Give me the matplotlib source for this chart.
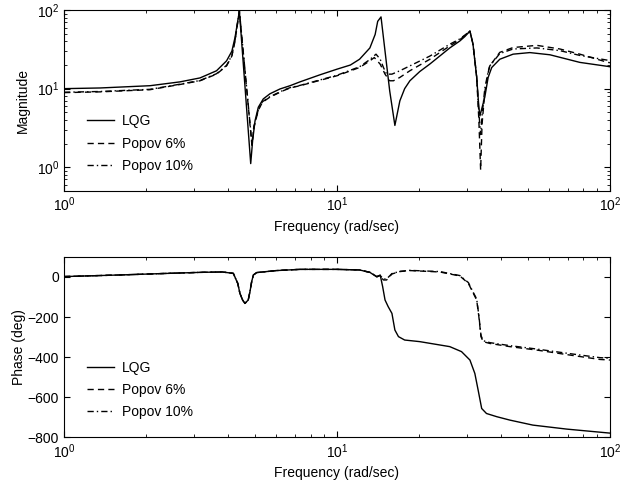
import matplotlib
matplotlib.use('Agg')
import matplotlib.pyplot as plt
from matplotlib.ticker import LogLocator, NullFormatter

plt.rcParams['font.family'] = ['Liberation Sans', 'DejaVu Sans']
plt.rcParams['font.size'] = 10
plt.rcParams['lines.scale_dashes'] = False
plt.rcParams['lines.dashed_pattern'] = [4.5, 3.0]
plt.rcParams['lines.dashdot_pattern'] = [4.5, 2.2, 1.0, 2.2]

# Magnitude data
f_mag_lqg = [1.0, 1.355, 2.065, 2.66, 3.15, 3.62, 3.94, 4.12, 4.23, 4.31, 4.39, 4.83,
             4.91, 5.01, 5.15, 5.37, 5.68, 6.18, 6.73, 7.32, 8.66, 10.0, 11.2, 12.1, 13.2,
             13.8, 14.1, 14.5, 15.0, 15.6, 16.3, 17.0, 17.7, 18.5, 20.1, 21.9, 25.9, 28.2,
             29.4, 30.7, 31.5, 32.5, 33.1, 33.4, 33.9, 34.8, 35.8, 36.9, 39.5, 44.2, 50.9,
             60.3, 77.6, 98.3, 100.0]
mag_lqg = [10.0, 10.2, 10.9, 12.2, 13.7, 16.9, 22.6, 30.0, 44.6, 66.0, 97.0, 1.11,
           2.2, 3.9, 5.8, 7.4, 8.6, 9.9, 10.9, 12.2, 15.0, 17.7, 20.0, 23.7, 33.0,
           49.0, 72.0, 82.0, 30.0, 9.4, 3.4, 7.0, 10.0, 12.6, 16.5, 20.6, 33.0, 40.5,
           46.0, 54.0, 37.0, 13.9, 5.8, 4.5, 5.5, 7.8, 13.9, 18.6, 23.7, 27.5, 28.8,
           27.0, 21.6, 19.2, 19.0]

f_mag_p6 = [1.0, 1.355, 2.065, 2.66, 3.15, 3.62, 3.94, 4.12, 4.23, 4.31, 4.39, 4.88,
            4.96, 5.15, 5.33, 5.68, 6.35, 6.73, 7.32, 10.0, 12.1, 13.2, 13.7, 14.4, 15.0,
            15.6, 16.1, 17.0, 18.5, 21.9, 25.9, 28.2, 30.7, 31.5, 32.5, 33.1, 33.6, 34.0,
            34.8, 35.8, 36.3, 39.5, 44.2, 54.0, 65.6, 77.6, 98.3, 100.0]
mag_p6 = [8.9, 9.1, 9.7, 11.3, 12.6, 15.3, 19.5, 26.0, 40.0, 63.0, 97.0, 1.9,
          3.2, 5.3, 6.7, 7.8, 9.4, 10.2, 10.9, 14.6, 18.6, 22.6, 24.9, 20.5, 15.3,
          12.6, 12.6, 13.9, 16.9, 23.7, 35.0, 42.0, 54.0, 37.0, 14.0, 4.0, 0.92, 3.5,
          9.0, 16.0, 19.5, 29.0, 33.4, 35.6, 32.0, 27.5, 21.6, 21.4]

f_mag_p10 = [1.0, 1.355, 2.065, 2.66, 3.15, 3.62, 3.94, 4.12, 4.23, 4.31, 4.39, 4.88,
             4.96, 5.15, 5.33, 5.68, 6.35, 6.73, 7.32, 10.0, 12.1, 13.2, 13.9, 14.4, 14.8,
             15.2, 15.9, 17.0, 18.5, 21.9, 25.9, 28.2, 30.7, 31.5, 32.5, 33.1, 33.6, 34.0,
             34.8, 35.8, 36.3, 39.5, 44.2, 54.0, 65.6, 77.6, 98.3, 100.0]
mag_p10 = [9.0, 9.2, 9.8, 11.4, 12.7, 15.5, 19.8, 26.5, 41.0, 64.0, 97.0, 2.0,
           3.3, 5.4, 6.8, 7.9, 9.5, 10.3, 11.0, 14.8, 19.0, 23.5, 27.5, 23.7, 18.6,
           15.3, 15.3, 16.9, 19.5, 26.0, 36.8, 43.0, 54.0, 37.0, 14.5, 5.0, 2.6, 4.5,
           10.0, 16.5, 19.5, 28.0, 32.0, 33.0, 30.5, 26.5, 23.0, 22.8]

# Phase data
f_ph_lqg = [1.0, 1.6, 2.4, 3.15, 3.8, 4.17, 4.33, 4.41, 4.51, 4.60, 4.73, 4.80, 4.87,
            4.94, 5.08, 6.0, 7.32, 10.0, 12.1, 13.2, 14.0, 14.4, 14.7, 15.0, 15.4, 15.9,
            16.3, 16.8, 17.7, 20.1, 25.9, 28.6, 30.7, 32.0, 32.9, 33.9, 35.3, 38.5, 43.0,
            52.2, 69.5, 100.0]
ph_lqg = [2.0, 10.0, 18.0, 23.0, 25.0, 18.0, -32.0, -82.0, -115.0, -132.0, -115.0, -73.0,
          -23.0, 10.0, 22.0, 32.0, 38.0, 38.0, 35.0, 23.0, 0.0, 10.0, -48.0, -115.0, -148.0,
          -182.0, -265.0, -298.0, -315.0, -323.0, -348.0, -373.0, -415.0, -482.0, -565.0,
          -657.0, -682.0, -698.0, -715.0, -740.0, -760.0, -780.0]

f_ph_p6 = [1.0, 1.6, 2.4, 3.15, 3.8, 4.17, 4.33, 4.41, 4.51, 4.60, 4.73, 4.80, 4.87,
           4.94, 5.08, 6.0, 7.32, 10.0, 12.1, 13.2, 14.0, 14.4, 14.8, 15.2, 15.9, 17.0,
           18.5, 23.8, 28.2, 30.3, 31.6, 32.5, 33.1, 33.7, 34.3, 36.3, 43.0, 53.9, 71.3,
           91.9, 100.0]
ph_p6 = [2.0, 10.0, 18.0, 23.0, 25.0, 18.0, -32.0, -82.0, -115.0, -132.0, -115.0, -73.0,
         -23.0, 10.0, 22.0, 32.0, 38.0, 38.0, 35.0, 23.0, 2.0, 5.0, -15.0, -15.0, 15.0, 27.0,
         32.0, 25.0, 5.0, -32.0, -82.0, -115.0, -198.0, -298.0, -323.0, -332.0, -348.0,
         -365.0, -390.0, -412.0, -415.0]

f_ph_p10 = f_ph_p6
ph_p10 = [2.0, 10.0, 18.0, 23.0, 25.0, 18.0, -32.0, -82.0, -115.0, -132.0, -115.0, -73.0,
          -23.0, 10.0, 22.0, 32.0, 38.0, 38.0, 35.0, 23.0, 3.0, 7.0, -10.0, -10.0, 17.0, 28.0,
          33.0, 27.0, 7.0, -28.0, -78.0, -110.0, -192.0, -292.0, -318.0, -328.0, -343.0,
          -360.0, -383.0, -403.0, -406.0]

labels = ['LQG', 'Popov 6%', 'Popov 10%']

fig = plt.figure(figsize=(6.34, 4.83), dpi=100)
ax1 = fig.add_axes([0.101, 0.605, 0.861, 0.374])
ax2 = fig.add_axes([0.101, 0.095, 0.861, 0.373])

ax1.loglog(f_mag_lqg, mag_lqg, 'k-', lw=1.0, label=labels[0])
ax1.loglog(f_mag_p6, mag_p6, 'k--', lw=1.0, label=labels[1])
ax1.loglog(f_mag_p10, mag_p10, 'k-.', lw=1.0, label=labels[2])
ax1.set_xlim(1, 100)
ax1.set_ylim(0.5, 100)
ax1.set_ylabel('Magnitude', labelpad=5)
ax1.set_xlabel('Frequency (rad/sec)')

ax2.semilogx(f_ph_lqg, ph_lqg, 'k-', lw=1.0, label=labels[0])
ax2.semilogx(f_ph_p6, ph_p6, 'k--', lw=1.0, label=labels[1])
ax2.semilogx(f_ph_p10, ph_p10, 'k-.', lw=1.0, label=labels[2])
ax2.set_xlim(1, 100)
ax2.set_ylim(-800, 100)
ax2.set_yticks([-800, -600, -400, -200, 0])
ax2.set_ylabel('Phase (deg)', labelpad=1)
ax2.set_xlabel('Frequency (rad/sec)')

for ax in (ax1, ax2):
    ax.tick_params(which='both', direction='in', top=True, right=True)
    ax.tick_params(which='major', length=4)
    ax.tick_params(which='minor', length=2)
    ax.xaxis.set_minor_locator(LogLocator(base=10, subs=range(2, 10)))
    ax.xaxis.set_minor_formatter(NullFormatter())
    for s in ax.spines.values():
        s.set_linewidth(0.8)
    ax.legend(loc='lower left', bbox_to_anchor=(0.02, 0.03), frameon=False,
              handlelength=1.9, handletextpad=0.6, labelspacing=0.6)

fig.savefig('out.png', dpi=100)
